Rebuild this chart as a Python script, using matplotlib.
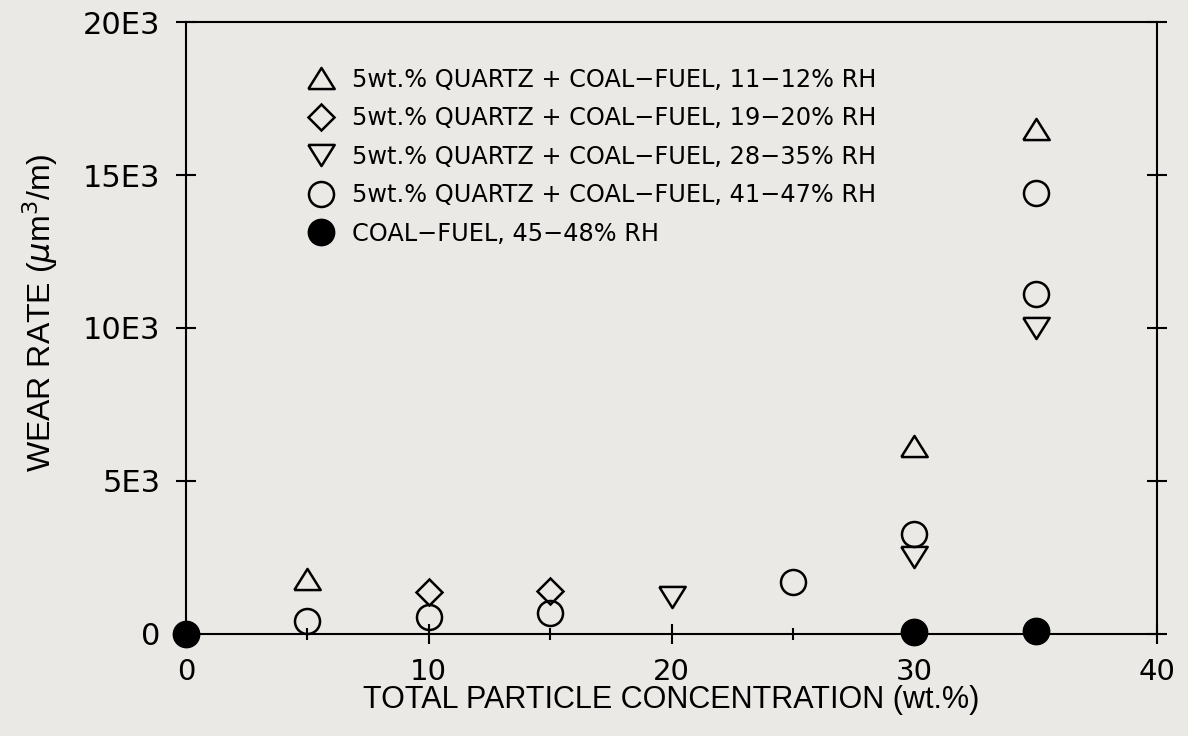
import matplotlib
matplotlib.use("Agg")
import matplotlib.pyplot as plt
from matplotlib.ticker import FixedLocator

# wear rate (um^3/m) vs total particle concentration (wt.%)
x_rh11 = [5, 30, 35]
y_rh11 = [1800, 6150, 16500]

x_rh19 = [10, 15]
y_rh19 = [1370, 1400]

x_rh28 = [20, 30, 35]
y_rh28 = [1210, 2520, 10000]

x_rh41 = [5, 10, 15, 25, 30, 35, 35]
y_rh41 = [420, 560, 690, 1700, 3270, 14400, 11100]

x_coal = [0, 30, 35]
y_coal = [0, 50, 100]

labels = [
    "5wt.% QUARTZ + COAL\u2212FUEL, 11\u221212% RH",
    "5wt.% QUARTZ + COAL\u2212FUEL, 19\u221220% RH",
    "5wt.% QUARTZ + COAL\u2212FUEL, 28\u221235% RH",
    "5wt.% QUARTZ + COAL\u2212FUEL, 41\u221247% RH",
    "COAL\u2212FUEL, 45\u221248% RH",
]

x_ticks = [0, 10, 20, 30, 40]
x_minor = [5, 15, 25, 35]
y_ticks = [0, 5000, 10000, 15000, 20000]
y_ticklabels = ["0", "5E3", "10E3", "15E3", "20E3"]

plt.rcParams['font.family'] = ['DejaVu Sans']
plt.rcParams['mathtext.fontset'] = 'dejavusans'

# flatter triangles like the plotter symbols
tri_up = [(-1, -0.8), (1, -0.8), (0, 0.8), (-1, -0.8)]
tri_dn = [(-1, 0.8), (1, 0.8), (0, -0.8), (-1, 0.8)]

bg = '#ebe9e5'
fig = plt.figure(figsize=(11.88, 7.36), dpi=100, facecolor=bg)
ax = fig.add_axes([0.1566, 0.1386, 0.8173, 0.8315])
ax.set_facecolor(bg)

common = dict(linestyle='none', mfc='none', mec='black', mew=1.8, clip_on=False, zorder=3)
ax.plot(x_rh11, y_rh11, marker=tri_up, ms=19, label=labels[0], **common)
ax.plot(x_rh19, y_rh19, marker='D', ms=13, label=labels[1], **common)
ax.plot(x_rh28, y_rh28, marker=tri_dn, ms=19, label=labels[2], **common)
ax.plot(x_rh41, y_rh41, marker='o', ms=18, label=labels[3], **common)
ax.plot(x_coal, y_coal, marker='o', ms=19, linestyle='none', mfc='black', mec='black',
        clip_on=False, zorder=4, label=labels[4])

ax.set_xlim(0, 40)
ax.set_ylim(0, 20000)
ax.xaxis.set_major_locator(FixedLocator(x_ticks))
ax.xaxis.set_minor_locator(FixedLocator(x_minor))
ax.set_yticks(y_ticks)
ax.set_yticklabels(y_ticklabels)

for s in ax.spines.values():
    s.set_linewidth(1.5)

ax.tick_params(axis='x', which='major', direction='inout', length=14, width=1.5,
               labelsize=21, pad=10.5, top=False)
ax.tick_params(axis='x', which='minor', direction='inout', length=8, width=1.5, top=False)
ax.tick_params(axis='y', which='major', direction='inout', length=15, width=1.5,
               labelsize=22, pad=11, right=True)

ax.set_xlabel("TOTAL PARTICLE CONCENTRATION (wt.%)", fontsize=22, family='Liberation Sans')
ax.set_ylabel("WEAR RATE ($\\mu$m$^3$/m)", fontsize=23, family='Liberation Sans')
ax.xaxis.set_label_coords(0.5, -0.083)
ax.yaxis.set_label_coords(-0.13, 0.525)

ax.legend(loc='upper left', bbox_to_anchor=(0.1246, 0.925), frameon=False, fontsize=17.3,
          handletextpad=0.72, labelspacing=0.6, borderpad=0, borderaxespad=0,
          handlelength=1.15)

plt.savefig("out.png", dpi=100, facecolor=bg)
